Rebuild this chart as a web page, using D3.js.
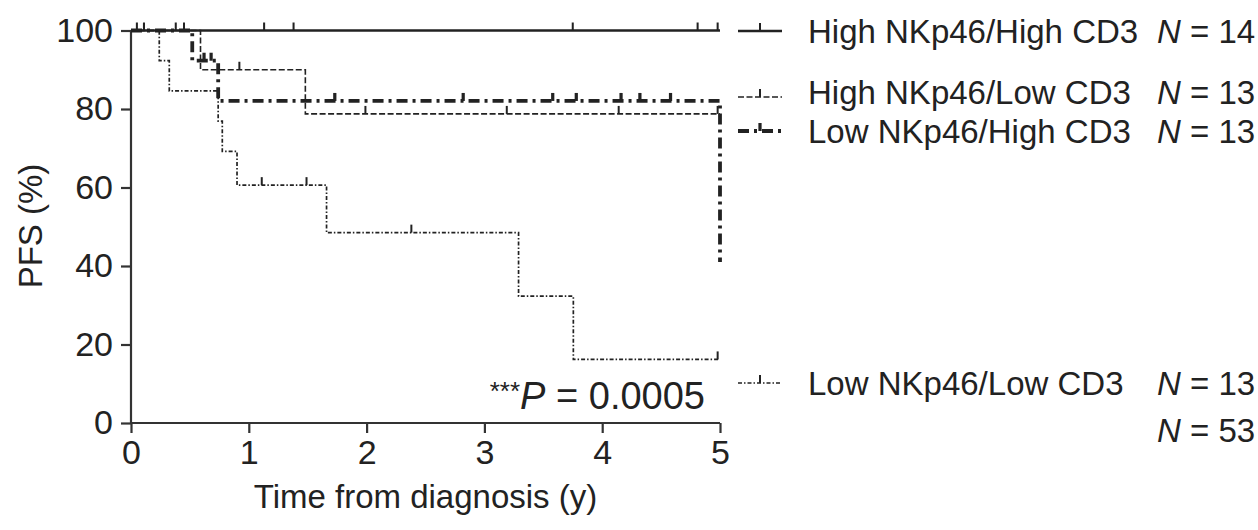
<!DOCTYPE html>
<html>
<head>
<meta charset="utf-8">
<script src="https://cdn.jsdelivr.net/npm/d3@7"></script>
<style>
  body { margin: 0; background: #fff; }
  svg text { font-family: "Liberation Sans", Arial, sans-serif; fill: #222; }
</style>
</head>
<body>
<div id="chart"></div>
<script>
// group names, sizes
var groups = ["High NKp46/High CD3", "High NKp46/Low CD3", "Low NKp46/High CD3", "Low NKp46/Low CD3"];
var groupN = [14, 13, 13, 13];
var totalN = 53;
var pLabel = "0.0005";

// event times (y) and survival after each event (%)
var hhEvents = [];
var hhSurv = [];
var hlEvents = [0.59, 1.48];
var hlSurv = [90.0, 78.75];
var lhEvents = [0.52, 0.74, 5.0];
var lhSurv = [92.3, 82.05, 41.0];
var llEvents = [0.24, 0.325, 0.74, 0.775, 0.9, 1.66, 3.29, 3.755];
var llSurv = [92.3, 84.6, 76.9, 69.2, 60.6, 48.5, 32.3, 16.2];

// censor times (y)
var hhCensor = [0.05, 0.11, 0.38, 0.45, 1.13, 1.38, 3.75, 4.81, 4.98];
var hlCensor = [0.92, 1.99, 3.19, 4.14, 4.98];
var lhCensor = [0.62, 0.68, 1.73, 2.82, 3.58, 3.78, 4.16, 4.32, 4.58];
var llCensor = [1.11, 1.49, 2.38, 4.98];

var xTicks = [0, 1, 2, 3, 4, 5];
var yTicks = [0, 20, 40, 60, 80, 100];

var width = 1258, height = 530;

var container = d3.select("#chart");
var svg = container.append("svg")
  .attr("width", width)
  .attr("height", height);

var x = d3.scaleLinear().domain([0, 5]).range([131, 720]);
var y = d3.scaleLinear().domain([0, 100]).range([423, 30.5]);

// legY: legend symbol row, legT: legend text baseline
var series = [
  { ev: hhEvents, sv: hhSurv, cens: hhCensor, w: 2.4, dash: null, legY: 31, legT: 43 },
  { ev: hlEvents, sv: hlSurv, cens: hlCensor, w: 1.6, dash: "6,2.5", legY: 97, legT: 104 },
  { ev: lhEvents, sv: lhSurv, cens: lhCensor, w: 3.8, dash: "11,5,3,5", legY: 131, legT: 143 },
  { ev: llEvents, sv: llSurv, cens: llCensor, w: 1.7, dash: "4,2,1.5,2", legY: 383, legT: 395 }
];

function survAt(s, t) {
  var v = 100;
  s.ev.forEach(function(e, i) { if (e <= t) v = s.sv[i]; });
  return v;
}

function kmPoints(s) {
  var pts = [[0, 100]];
  s.ev.forEach(function(e, i) { pts.push([e, s.sv[i]]); });
  if (pts[pts.length - 1][0] < 5) pts.push([5, pts[pts.length - 1][1]]);
  return pts;
}

var line = d3.line()
  .x(function(d) { return x(d[0]); })
  .y(function(d) { return y(d[1]); })
  .curve(d3.curveStepAfter);

// axes
var yAxis = svg.append("g")
  .attr("transform", "translate(131,0)")
  .call(d3.axisLeft(y).tickValues(yTicks).tickSize(10).tickPadding(8));
var xAxis = svg.append("g")
  .attr("transform", "translate(0,423)")
  .call(d3.axisBottom(x).tickValues(xTicks).tickFormat(d3.format("d")).tickSize(10).tickPadding(7));

[yAxis, xAxis].forEach(function(g) {
  g.select(".domain").attr("stroke", "#333").attr("stroke-width", 2.2);
  g.selectAll(".tick line").attr("stroke", "#333").attr("stroke-width", 2.2);
  g.selectAll("text").attr("font-size", 34).attr("fill", "#222")
    .attr("font-family", "Liberation Sans, Arial, sans-serif");
});
// remove the outer-tick end caps
yAxis.select(".domain").attr("d", "M0," + y(100) + "V" + y(0));
xAxis.select(".domain").attr("d", "M" + x(0) + ",0H" + x(5));

svg.append("text")
  .attr("x", (x(0) + x(5)) / 2)
  .attr("y", 508)
  .attr("text-anchor", "middle")
  .attr("font-size", 33)
  .text("Time from diagnosis (y)");

svg.append("text")
  .attr("transform", "translate(42,226) rotate(-90)")
  .attr("text-anchor", "middle")
  .attr("font-size", 33)
  .text("PFS (%)");

// curves
series.forEach(function(s) {
  svg.append("path")
    .datum(kmPoints(s))
    .attr("d", line)
    .attr("fill", "none")
    .attr("stroke", "#222")
    .attr("stroke-width", s.w)
    .attr("stroke-dasharray", s.dash);

  svg.selectAll(null)
    .data(s.cens)
    .enter().append("line")
    .attr("x1", function(t) { return x(t); })
    .attr("x2", function(t) { return x(t); })
    .attr("y1", function(t) { return y(survAt(s, t)); })
    .attr("y2", function(t) { return y(survAt(s, t)) - 8; })
    .attr("stroke", "#222")
    .attr("stroke-width", Math.max(2, s.w * 0.85));
});

// p value
var pt = svg.append("text")
  .attr("x", 705)
  .attr("y", 409)
  .attr("text-anchor", "end")
  .attr("font-size", 38);
pt.append("tspan").attr("font-size", 26).attr("dy", -9).text("***");
pt.append("tspan").attr("font-style", "italic").attr("dy", 9).text("P");
pt.append("tspan").text(" = " + pLabel);

// legend
var leg = svg.append("g");
series.forEach(function(s, i) {
  var ly = s.legY;
  leg.append("line")
    .attr("x1", 738).attr("x2", 782)
    .attr("y1", ly).attr("y2", ly)
    .attr("stroke", "#222")
    .attr("stroke-width", s.w)
    .attr("stroke-dasharray", s.dash);
  leg.append("line")
    .attr("x1", 760).attr("x2", 760)
    .attr("y1", ly).attr("y2", ly - 8)
    .attr("stroke", "#222")
    .attr("stroke-width", Math.max(2, s.w * 0.85));
  leg.append("text")
    .attr("x", 808)
    .attr("y", s.legT)
    .attr("font-size", 33)
    .text(groups[i]);
  var nt = leg.append("text")
    .attr("x", 1157)
    .attr("y", s.legT)
    .attr("font-size", 33);
  nt.append("tspan").attr("font-style", "italic").text("N");
  nt.append("tspan").text(" = " + groupN[i]);
});
var tt = leg.append("text")
  .attr("x", 1157)
  .attr("y", 442)
  .attr("font-size", 33);
tt.append("tspan").attr("font-style", "italic").text("N");
tt.append("tspan").text(" = " + totalN);
</script>
</body>
</html>
